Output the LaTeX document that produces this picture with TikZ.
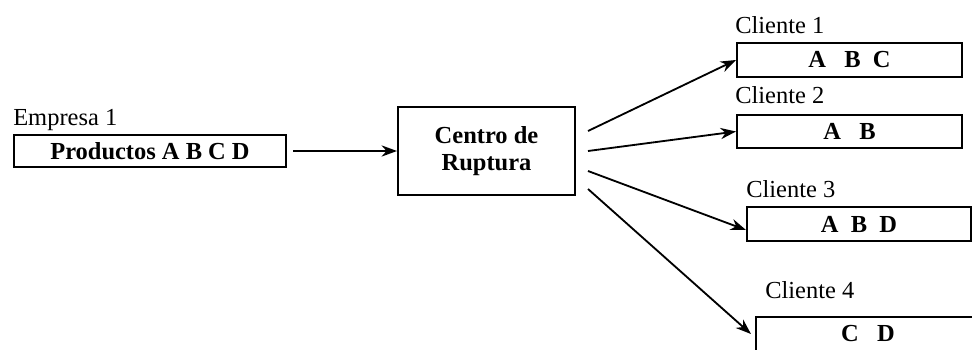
\documentclass[tikz,border=0pt]{standalone}
\usepackage{fontspec}
\setmainfont{Liberation Serif}
\usetikzlibrary{arrows.meta}

\begin{document}
\begin{tikzpicture}[x=0.025cm,y=-0.025cm]
	\tikzstyle{every node}=[font=\fontsize{17.4}{19.2}\selectfont]
	\tikzstyle{caja}=[draw=black,line width=1.4pt,font=\fontsize{17.4}{19.2}\selectfont\bfseries,inner sep=0pt]
	\tikzstyle{rotulo}=[anchor=base west,inner sep=0pt]
	\tikzstyle{flecha}=[line width=1.3pt,-{Stealth[length=11pt,width=8pt]}]
	\useasboundingbox (0,0) rectangle (972,349);
	\node[caja,minimum width=6.8cm,minimum height=0.8cm](emp) at (150,151) {Productos A B C D};
	\node[caja,minimum width=4.425cm,minimum height=2.2cm,align=center](centro) at (486.5,151) {Centro de\\Ruptura};
	\node[caja,minimum width=5.625cm,minimum height=0.85cm](c1) at (849.5,60) {A~~~B~~C};
	\node[caja,minimum width=5.625cm,minimum height=0.825cm](c2) at (849.5,131.5) {A~~~B};
	\node[caja,minimum width=5.6cm,minimum height=0.85cm](c3) at (859,224) {A~~B~~D};
	\node[caja,minimum width=5.6cm,minimum height=0.85cm](c4) at (868,334) {C~~~D};
	\node[rotulo](temp) at (13,125) {Empresa 1};
	\node[rotulo](t1) at (735,33) {Cliente 1};
	\node[rotulo](t2) at (735,103) {Cliente 2};
	\node[rotulo](t3) at (746,197) {Cliente 3};
	\node[rotulo](t4) at (765,298) {Cliente 4};
	\draw[flecha,shorten <=0.15cm](emp) -- (centro);
	\draw[flecha]([xshift=0.3cm,yshift=0.5cm]centro.east) -- (c1.west);
	\draw[flecha]([xshift=0.3cm]centro.east) -- (c2.west);
	\draw[flecha]([xshift=0.3cm,yshift=-0.5cm]centro.east) -- ([yshift=-0.15cm]c3.west);
	\draw[flecha]([xshift=0.3cm,yshift=-0.95cm]centro.east) -- ([xshift=-0.1cm]c4.west);
\end{tikzpicture}
\end{document}
